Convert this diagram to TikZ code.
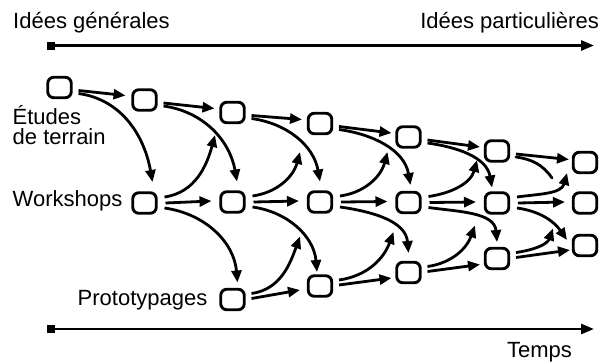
\documentclass[tikz,border=0pt]{standalone}
\usepackage{fontspec}
\setmainfont{Liberation Sans}
\usetikzlibrary{arrows.meta,calc}

\begin{document}
\begin{tikzpicture}[x=1pt,y=1pt,
  box/.style={draw, line width=2.9pt, rounded corners=6pt,
    minimum width=23.5pt, minimum height=20.5pt, inner sep=0pt},
  arr/.style={line width=2.8pt, -{Triangle[length=12pt,width=10pt]}},
  stub/.style={line width=2.8pt, line cap=round},
  axisline/.style={line width=2.8pt, -{Triangle[length=13pt,width=10pt]}},
  endmark/.style={fill, minimum size=8pt, inner sep=0pt},
  lbl/.style={font=\fontsize{22}{20.5}\selectfont, inner sep=0pt},
  ee/.style={arr},
  ew/.style={arr, out=-8, in=100},
  we/.style={arr, out=8, in=-105},
  wp/.style={arr, out=-8, in=95},
  pw/.style={arr, out=8, in=-110}]

\useasboundingbox (0,0) rectangle (612,-362);

% axes
\node[endmark] (g0) at (51,-45.5) {};
\coordinate (g1) at (594,-45.5);
\draw[axisline] (g0.center) -- (g1);
\node[lbl, anchor=base west] (gen) at (13,-28) {Idées générales};
\node[lbl, anchor=base east] (part) at (599,-28) {Idées particulières};

\node[endmark] (t0) at (51,-329) {};
\coordinate (t1) at (594,-329);
\draw[axisline] (t0.center) -- (t1);
\node[lbl, anchor=base east] (temps) at (572,-357) {Temps};

% row labels
\node[lbl, anchor=north west, align=left] (etudes) at (12.5,-105) {Études\\de terrain};
\node[lbl, anchor=base west] (workshops) at (12.5,-206.5) {Workshops};
\node[lbl, anchor=base west] (proto) at (77.5,-305) {Prototypages};

% field studies row
\node[box] (E0) at (59.5,-87.5) {};
\node[box] (E1) at (144.5,-100) {};
\node[box] (E2) at (232.5,-112.5) {};
\node[box] (E3) at (320,-123.5) {};
\node[box] (E4) at (408.5,-137) {};
\node[box] (E5) at (497,-151) {};
\node[box] (E6) at (585,-162.5) {};
% workshop row
\node[box] (W0) at (144.5,-203) {};
\node[box] (W1) at (232.5,-202) {};
\node[box] (W2) at (320,-202) {};
\node[box] (W3) at (408.5,-202.5) {};
\node[box] (W4) at (497,-203) {};
\node[box] (W5) at (585,-203) {};
% prototype row
\node[box] (P0) at (232.5,-299.5) {};
\node[box] (P1) at (320,-286) {};
\node[box] (P2) at (408.5,-272.5) {};
\node[box] (P3) at (497,-258.5) {};
\node[box] (P4) at (585,-245.5) {};

% study -> study
\draw[ee] ($(E0)+(19,-3)$) -- ($(E1)+(-19,4.5)$);
\draw[ee] ($(E1)+(19,-3)$) -- ($(E2)+(-18,4)$);
\draw[ee] ($(E2)+(19,-3)$) -- ($(E3)+(-18,4)$);
\draw[ee] ($(E3)+(19,-3)$) -- ($(E4)+(-17,4)$);
\draw[ee] ($(E4)+(19,-3)$) -- ($(E5)+(-17,4)$);
\draw[ee] ($(E5)+(19,-3)$) -- ($(E6)+(-16,3)$);

% study -> workshop
\draw[ew] ($(E0)+(19,-6)$) to ($(W0)+(8,21)$);
\draw[ew] ($(E1)+(19,-6)$) to ($(W1)+(4.5,20.5)$);
\draw[ew] ($(E2)+(19,-6)$) to ($(W2)+(0,20.5)$);
\draw[ew] ($(E3)+(19,-6)$) to ($(W3)+(2,17.5)$);
\draw[ew] ($(E4)+(19,-6)$) to ($(W4)+(-5,15.5)$);
\coordinate (stubend) at ($(E5)+(55,-27)$);
\draw[stub] ($(E5)+(19,-6)$) to[out=-8, in=125] (stubend);

% workshop -> study
\draw[we] ($(W0)+(20,6)$) to ($(E2)+(-17.5,-22.5)$);
\draw[we] ($(W1)+(20,6)$) to ($(E3)+(-20,-28.5)$);
\draw[we] ($(W2)+(20,6)$) to ($(E4)+(-21,-15)$);
\draw[we] ($(W3)+(20,6)$) to ($(E5)+(-20,-9)$);
\draw[we] ($(W4)+(20,6)$) to ($(E6)+(-18,-10.5)$);

% workshop -> workshop
\draw[arr] ($(W0)+(21,0)$) -- ($(W1)+(-21,1)$);
\draw[arr] ($(W1)+(21,0)$) -- ($(W2)+(-21,1)$);
\draw[arr] ($(W2)+(21,0)$) -- ($(W3)+(-21,1)$);
\draw[arr] ($(W3)+(21,0)$) -- ($(W4)+(-21,1)$);
\draw[arr] ($(W4)+(21,0)$) -- ($(W5)+(-20,1)$);

% workshop -> prototype
\draw[wp] ($(W0)+(20,-5)$) to ($(P0)+(5,17)$);
\draw[wp] ($(W1)+(20,-5)$) to ($(P1)+(-3,14)$);
\draw[wp] ($(W2)+(20,-5)$) to ($(P2)+(0,19.5)$);
\draw[wp] ($(W3)+(20,-5)$) to ($(P3)+(0,16.5)$);
\draw[wp, in=125] ($(W4)+(20,-5)$) to ($(P4)+(-18,5.5)$);

% prototype -> workshop
\draw[pw] ($(P0)+(19,6)$) to ($(W2)+(-20,-34.5)$);
\draw[pw] ($(P1)+(19,6)$) to ($(W3)+(-15,-29.5)$);
\draw[pw] ($(P2)+(19,6)$) to ($(W4)+(-22,-22.5)$);
\draw[pw] ($(P3)+(19,6)$) to ($(W5)+(-32,-25.5)$);

% prototype -> prototype
\draw[arr] ($(P0)+(19,1)$) -- ($(P1)+(-20,-4)$);
\draw[arr] ($(P1)+(19,1)$) -- ($(P2)+(-17,-5.5)$);
\draw[arr] ($(P2)+(19,1)$) -- ($(P3)+(-17,-6)$);
\draw[arr] ($(P3)+(19,1)$) -- ($(P4)+(-15,-4.5)$);
\end{tikzpicture}
\end{document}
